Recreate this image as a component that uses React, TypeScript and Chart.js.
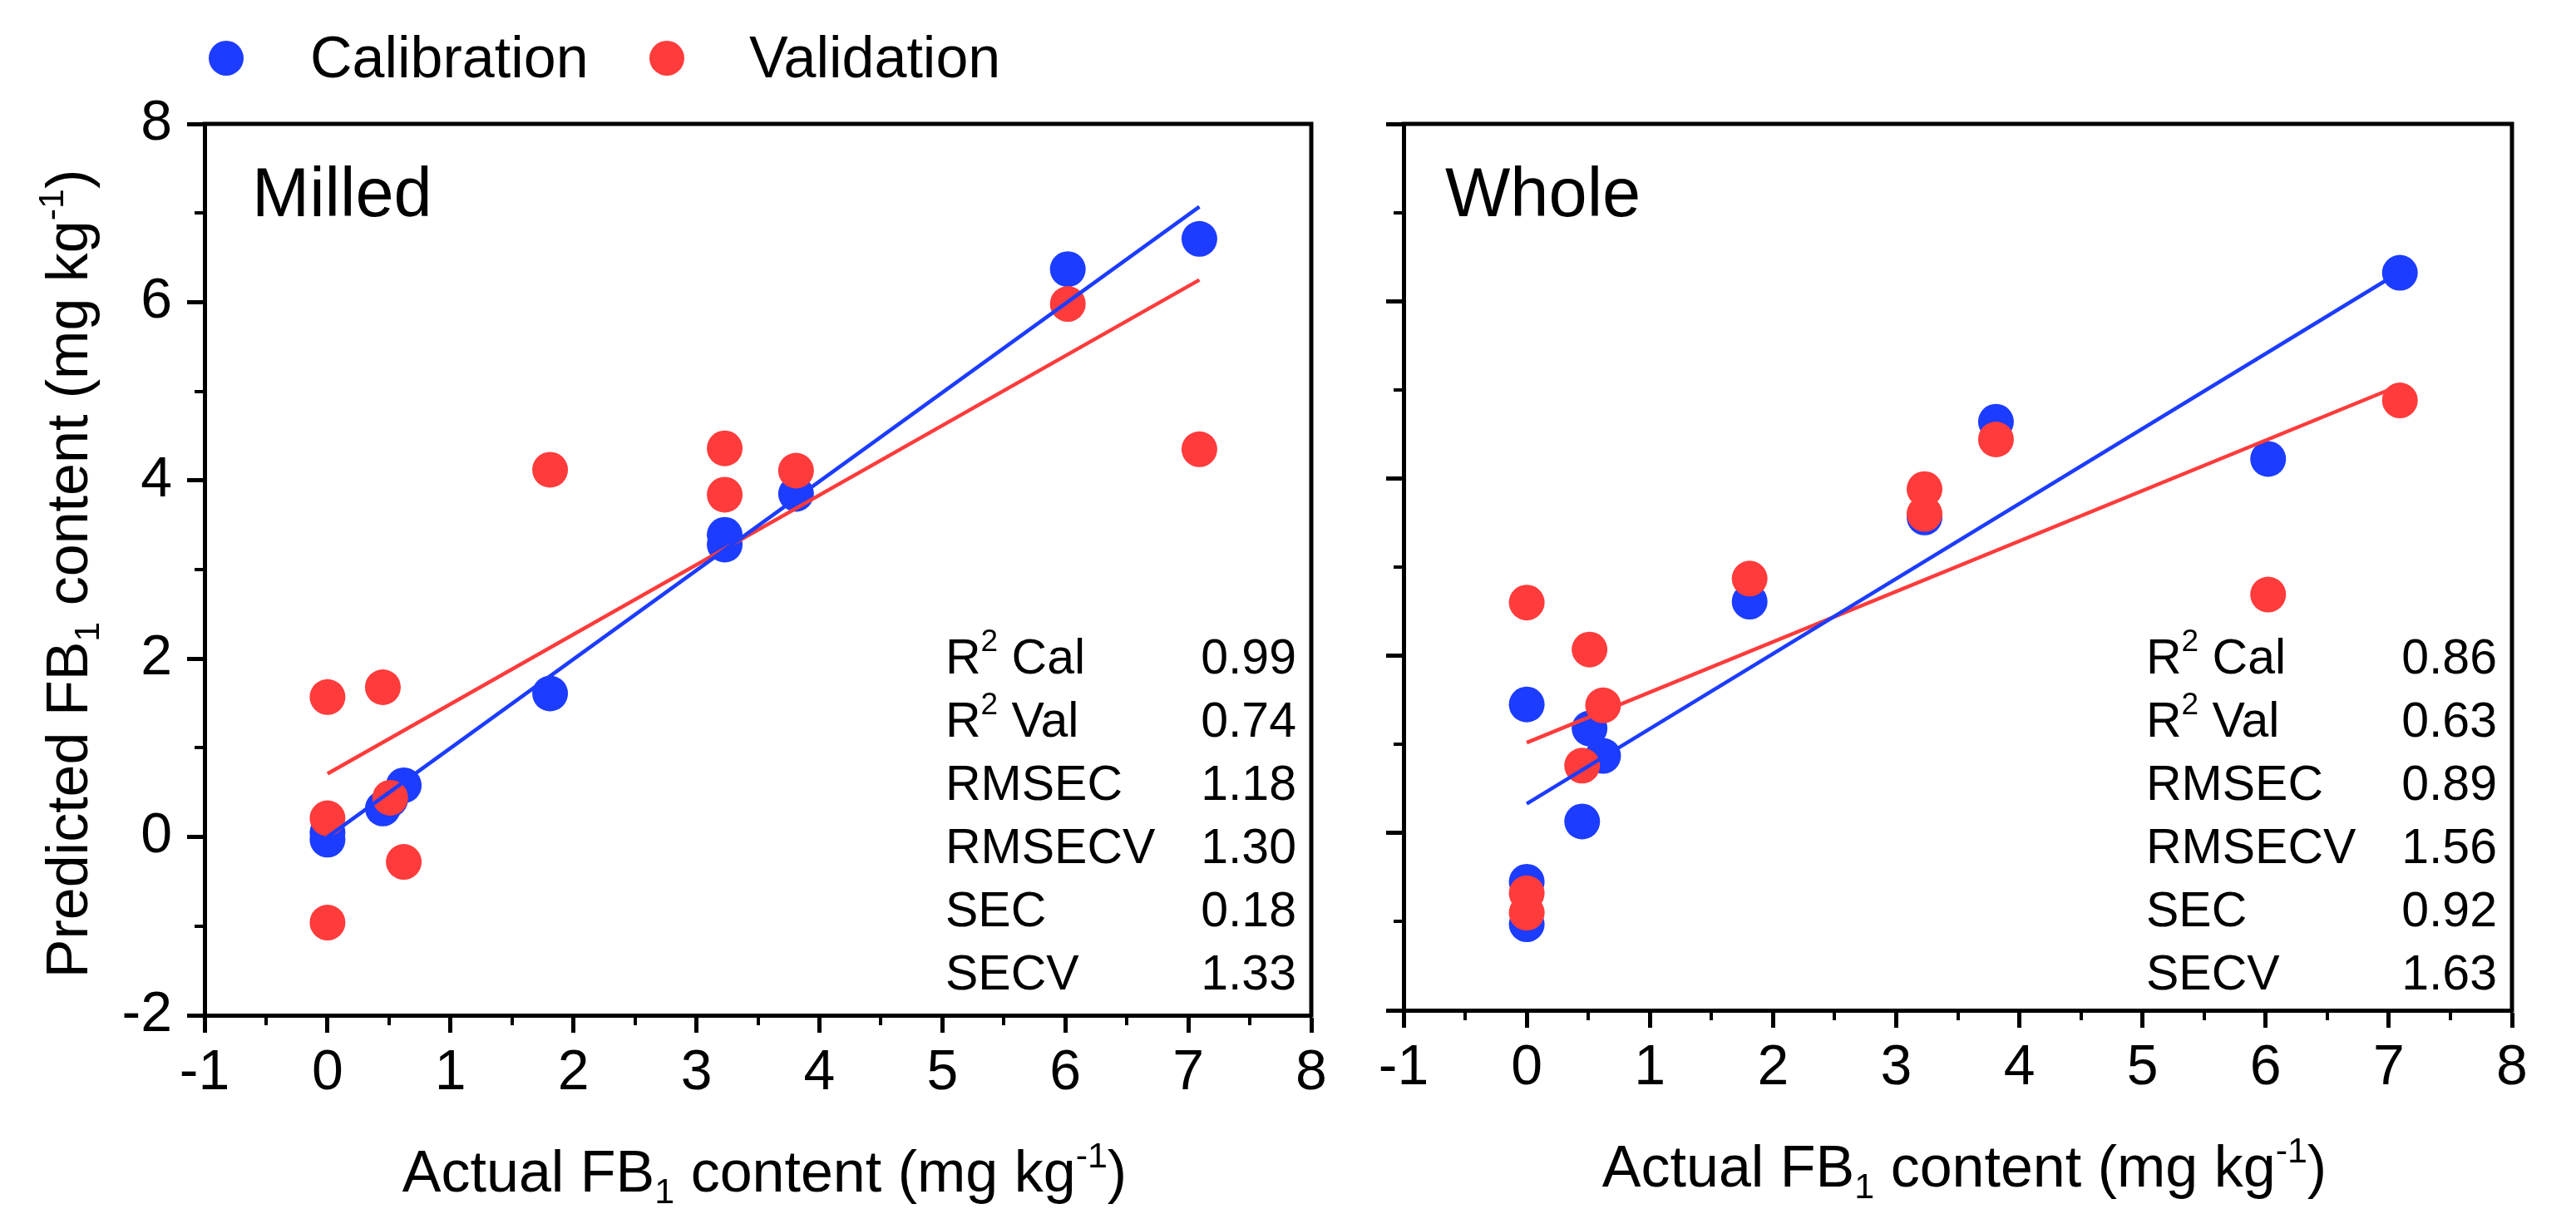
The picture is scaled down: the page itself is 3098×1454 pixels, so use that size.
import React, { useEffect, useRef } from 'react';
import { Chart, registerables } from 'chart.js';

Chart.register(...registerables);

const FONT = "'Liberation Sans', Arial, Helvetica, sans-serif";
const BLUE = '#1c3cff';
const RED = '#ff3b3b';

// ---------- Milled panel data ----------
const milledCalX = [0, 0, 0.45, 0.51, 0.62, 1.81, 3.23, 3.23, 3.81, 6.02, 7.09];
const milledCalY = [0.05, -0.03, 0.32, 0.42, 0.58, 1.61, 3.39, 3.28, 3.85, 6.37, 6.71];
const milledValX = [0, 0, 0, 0.45, 0.51, 0.62, 1.81, 3.23, 3.23, 3.81, 6.02, 7.09];
const milledValY = [1.57, 0.21, -0.96, 1.68, 0.44, -0.28, 4.12, 4.36, 3.84, 4.11, 5.98, 4.35];
const milledCalFitX = [0, 7.09];
const milledCalFitY = [0.0, 7.07];
const milledValFitX = [0, 7.09];
const milledValFitY = [0.71, 6.25];

// ---------- Whole panel data ----------
const wholeCalX = [0, 0, 0, 0.45, 0.51, 0.62, 1.81, 3.23, 3.81, 6.02, 7.09];
const wholeCalY = [1.45, -0.55, -1.03, 0.13, 1.18, 0.87, 2.61, 3.56, 4.64, 4.22, 6.32];
const wholeValX = [0, 0, 0, 0.45, 0.51, 0.62, 1.81, 3.23, 3.23, 3.81, 6.02, 7.09];
const wholeValY = [2.6, -0.68, -0.9, 0.76, 2.07, 1.44, 2.87, 3.88, 3.6, 4.44, 2.69, 4.88];
const wholeCalFitX = [0, 7.09];
const wholeCalFitY = [0.33, 6.33];
const wholeValFitX = [0, 7.09];
const wholeValFitY = [1.02, 5.05];

// ---------- Statistics ----------
const statLabels = ['R^2 Cal', 'R^2 Val', 'RMSEC', 'RMSECV', 'SEC', 'SECV'];
const milledStats = ['0.99', '0.74', '1.18', '1.30', '0.18', '1.33'];
const wholeStats = ['0.86', '0.63', '0.89', '1.56', '0.92', '1.63'];

// ---------- Axes ----------
const xMin = -1;
const xMax = 8;
const xStep = 1;
const xMinorTicks = [-0.5, 0.5, 1.5, 2.5, 3.5, 4.5, 5.5, 6.5, 7.5];
const yMin = -2;
const yMax = 8;
const yStep = 2;
const yMinorTicks = [-1, 1, 3, 5, 7];

const seriesNames = ['Calibration', 'Validation'];
const panelNames = ['Milled', 'Whole'];

type Seg = { t: string; m?: 'sup' | 'sub' };

const xTitleSegs: Seg[] = [
  { t: 'Actual FB' },
  { t: '1', m: 'sub' },
  { t: ' content (mg kg' },
  { t: '-1', m: 'sup' },
  { t: ')' },
];
const yTitleSegs: Seg[] = [
  { t: 'Predicted FB' },
  { t: '1', m: 'sub' },
  { t: ' content (mg kg' },
  { t: '-1', m: 'sup' },
  { t: ')' },
];

function parseLabel(s: string): Seg[] {
  const i = s.indexOf('^');
  if (i < 0) return [{ t: s }];
  return [{ t: s.slice(0, i) }, { t: s.slice(i + 1, i + 2), m: 'sup' }, { t: s.slice(i + 2) }];
}

function segFont(size: number, m?: string) {
  return `${m ? Math.round(size * 0.62) : size}px ${FONT}`;
}

function richWidth(ctx: CanvasRenderingContext2D, segs: Seg[], size: number) {
  let w = 0;
  for (const s of segs) {
    ctx.font = segFont(size, s.m);
    w += ctx.measureText(s.t).width;
  }
  return w;
}

function drawRich(
  ctx: CanvasRenderingContext2D,
  segs: Seg[],
  x: number,
  y: number,
  size: number,
  align: 'left' | 'center' | 'right',
  supRaise = 0.42
) {
  const w = richWidth(ctx, segs, size);
  let cx = align === 'left' ? x : align === 'center' ? x - w / 2 : x - w;
  ctx.textAlign = 'left';
  ctx.textBaseline = 'alphabetic';
  for (const s of segs) {
    ctx.font = segFont(size, s.m);
    const dy = s.m === 'sup' ? -size * supRaise : s.m === 'sub' ? size * 0.2 : 0;
    ctx.fillText(s.t, cx, y + dy);
    cx += ctx.measureText(s.t).width;
  }
}

const pts = (xs: number[], ys: number[]) => xs.map((x, i) => ({ x, y: ys[i] }));

interface PanelCfg {
  left: number;
  width: number;
  yAxisWidth: number;
  xAxisHeight: number;
  padRight: number;
  calX: number[];
  calY: number[];
  valX: number[];
  valY: number[];
  calFitX: number[];
  calFitY: number[];
  valFitX: number[];
  valFitY: number[];
  stats: string[];
  name: string;
  nameOffset: number;
  showYLabels: boolean;
  showYTitle: boolean;
  showLegend: boolean;
}

function Panel({ cfg }: { cfg: PanelCfg }) {
  const ref = useRef<HTMLCanvasElement>(null);
  useEffect(() => {
    const canvas = ref.current;
    if (!canvas) return;

    const decor = {
      id: 'decor',
      afterDraw(chart: any) {
        const ctx: CanvasRenderingContext2D = chart.ctx;
        const a = chart.chartArea;
        const xs = chart.scales.x;
        const ys = chart.scales.y;
        ctx.save();
        ctx.strokeStyle = '#000';
        ctx.fillStyle = '#000';
        // top & right frame
        ctx.lineWidth = 5;
        ctx.beginPath();
        ctx.moveTo(a.left - 2.5, a.top);
        ctx.lineTo(a.right, a.top);
        ctx.moveTo(a.right, a.top - 2.5);
        ctx.lineTo(a.right, a.bottom + 2.5);
        ctx.stroke();
        // minor ticks
        ctx.lineWidth = 4;
        ctx.beginPath();
        for (const v of xMinorTicks) {
          const px = Math.round(xs.getPixelForValue(v));
          ctx.moveTo(px, a.bottom);
          ctx.lineTo(px, a.bottom + 12);
        }
        for (const v of yMinorTicks) {
          const py = Math.round(ys.getPixelForValue(v));
          ctx.moveTo(a.left - 12, py);
          ctx.lineTo(a.left, py);
        }
        ctx.stroke();
        // panel name
        ctx.font = `83px ${FONT}`;
        ctx.textAlign = 'left';
        ctx.textBaseline = 'alphabetic';
        ctx.fillText(cfg.name, a.left + cfg.nameOffset, a.top + 111);
        // stats block
        statLabels.forEach((lab, i) => {
          const yy = a.top + 661 + i * 76;
          drawRich(ctx, parseLabel(lab), a.right - 440, yy, 59, 'left', 0.46);
          ctx.font = `59px ${FONT}`;
          ctx.textAlign = 'right';
          ctx.fillText(cfg.stats[i], a.right - 18, yy);
        });
        // x title
        drawRich(ctx, xTitleSegs, (a.left + a.right) / 2 + 8, a.bottom + 212, 70, 'center');
        // y title
        if (cfg.showYTitle) {
          ctx.save();
          ctx.translate(105, (a.top + a.bottom) / 2 + 5);
          ctx.rotate(-Math.PI / 2);
          drawRich(ctx, yTitleSegs, 0, 0, 70, 'center');
          ctx.restore();
        }
        // legend
        if (cfg.showLegend) {
          const items = [
            { name: seriesNames[0], color: BLUE, cx: 272, tx: 373 },
            { name: seriesNames[1], color: RED, cx: 802, tx: 901 },
          ];
          for (const it of items) {
            ctx.fillStyle = it.color;
            ctx.beginPath();
            ctx.arc(it.cx, 70, 21, 0, Math.PI * 2);
            ctx.fill();
            ctx.fillStyle = '#000';
            ctx.font = `70px ${FONT}`;
            ctx.textAlign = 'left';
            ctx.textBaseline = 'alphabetic';
            ctx.fillText(it.name, it.tx, 93);
          }
        }
        ctx.restore();
      },
    };

    const tickFont = { family: FONT, size: 68 };
    const chart = new Chart(canvas, {
      type: 'scatter',
      data: {
        datasets: [
          {
            label: seriesNames[0] + ' fit',
            data: pts(cfg.calFitX, cfg.calFitY),
            showLine: true,
            borderColor: BLUE,
            borderWidth: 4.5,
            pointRadius: 0,
            pointHoverRadius: 0,
            order: 0,
          },
          {
            label: seriesNames[1] + ' fit',
            data: pts(cfg.valFitX, cfg.valFitY),
            showLine: true,
            borderColor: RED,
            borderWidth: 4.5,
            pointRadius: 0,
            pointHoverRadius: 0,
            order: 1,
          },
          {
            label: seriesNames[1],
            data: pts(cfg.valX, cfg.valY),
            backgroundColor: RED,
            borderColor: RED,
            pointRadius: 21.5,
            pointHoverRadius: 21.5,
            pointBorderWidth: 0,
            borderWidth: 0,
            order: 2,
          },
          {
            label: seriesNames[0],
            data: pts(cfg.calX, cfg.calY),
            backgroundColor: BLUE,
            borderColor: BLUE,
            pointRadius: 21.5,
            pointHoverRadius: 21.5,
            pointBorderWidth: 0,
            borderWidth: 0,
            order: 3,
          },
        ],
      } as any,
      options: {
        responsive: false,
        animation: false,
        devicePixelRatio: 1,
        events: [],
        layout: { padding: { left: 0, top: 149, right: cfg.padRight, bottom: 0 } },
        plugins: { legend: { display: false }, tooltip: { enabled: false } },
        scales: {
          x: {
            type: 'linear',
            position: 'bottom',
            min: xMin,
            max: xMax,
            ticks: { stepSize: xStep, font: tickFont, color: '#000', padding: 8, maxRotation: 0, autoSkip: false },
            grid: { display: true, drawOnChartArea: false, drawTicks: true, tickLength: 21, tickWidth: 5, tickColor: '#000' },
            border: { display: true, width: 5, color: '#000' },
            afterFit: (s: any) => {
              s.height = cfg.xAxisHeight;
            },
          },
          y: {
            type: 'linear',
            position: 'left',
            min: yMin,
            max: yMax,
            ticks: { stepSize: yStep, font: tickFont, color: '#000', padding: 18, display: cfg.showYLabels },
            grid: { display: true, drawOnChartArea: false, drawTicks: true, tickLength: 21, tickWidth: 5, tickColor: '#000' },
            border: { display: true, width: 5, color: '#000' },
            afterFit: (s: any) => {
              s.width = cfg.yAxisWidth;
            },
          },
        },
      } as any,
      plugins: [decor],
    });
    return () => chart.destroy();
  }, []);

  return (
    <canvas
      ref={ref}
      width={cfg.width}
      height={1454}
      style={{ position: 'absolute', left: cfg.left, top: 0, width: cfg.width, height: 1454 }}
    />
  );
}

const milledCfg: PanelCfg = {
  left: 0,
  width: 1620,
  yAxisWidth: 246,
  xAxisHeight: 1454 - 1221,
  padRight: 1620 - 1577,
  calX: milledCalX,
  calY: milledCalY,
  valX: milledValX,
  valY: milledValY,
  calFitX: milledCalFitX,
  calFitY: milledCalFitY,
  valFitX: milledValFitX,
  valFitY: milledValFitY,
  stats: milledStats,
  name: panelNames[0],
  nameOffset: 57,
  showYLabels: true,
  showYTitle: true,
  showLegend: true,
};

const wholeCfg: PanelCfg = {
  left: 1620,
  width: 1478,
  yAxisWidth: 68,
  xAxisHeight: 1454 - 1215,
  padRight: 1478 - 1401,
  calX: wholeCalX,
  calY: wholeCalY,
  valX: wholeValX,
  valY: wholeValY,
  calFitX: wholeCalFitX,
  calFitY: wholeCalFitY,
  valFitX: wholeValFitX,
  valFitY: wholeValFitY,
  stats: wholeStats,
  name: panelNames[1],
  nameOffset: 50,
  showYLabels: false,
  showYTitle: false,
  showLegend: false,
};

export default function App() {
  return (
    <div style={{ position: 'absolute', left: 0, top: 0, width: 3098, height: 1454, background: '#fff', overflow: 'hidden' }}>
      <Panel cfg={milledCfg} />
      <Panel cfg={wholeCfg} />
    </div>
  );
}
